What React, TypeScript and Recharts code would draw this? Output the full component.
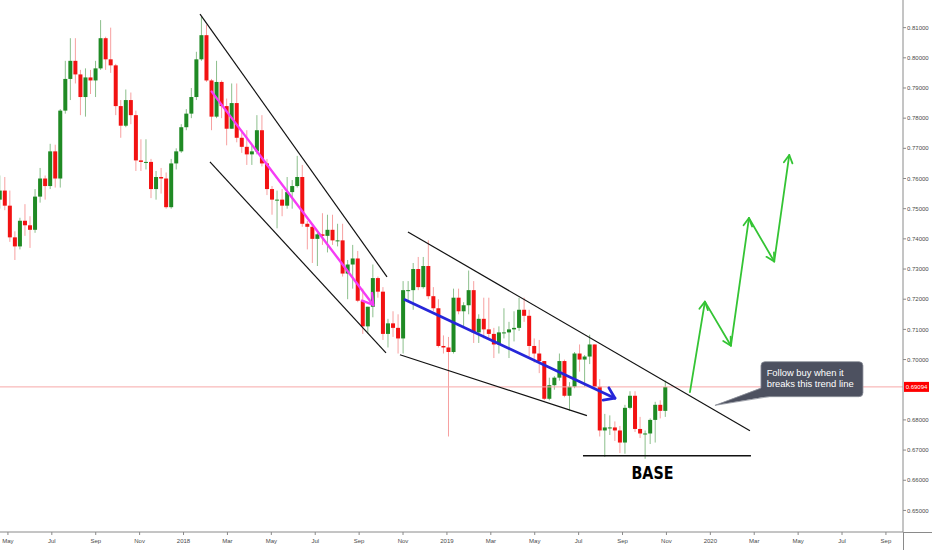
import React from 'react';
import { ComposedChart, Bar, XAxis, YAxis, ReferenceLine, ReferenceDot } from 'recharts';

// AUDUSD, one bar per week, prices in 1/10000
const opens = [
  7530, 7560, 7510, 7405, 7375, 7460, 7445, 7430, 7540, 7600,
  7575, 7690, 7600, 7825, 7930, 7990, 7945, 7870, 7935, 7925,
  7965, 8065, 7995, 7975, 7840, 7775, 7860, 7810, 7660, 7655,
  7655, 7565, 7605, 7600, 7505, 7650, 7690, 7770, 7815, 7870,
  7995, 8075, 7925, 7805, 7920, 7840, 7765, 7850, 7735, 7705,
  7680, 7690, 7760, 7650, 7565, 7530, 7530, 7510, 7555, 7575,
  7605, 7450, 7440, 7400, 7415, 7410, 7430, 7395, 7395, 7285,
  7315, 7335, 7195, 7110, 7175, 7270, 7225, 7085, 7120, 7105,
  7070, 7230, 7230, 7300, 7240, 7310, 7210, 7170, 7045, 7040,
  7025, 7205, 7160, 7180, 7230, 7090, 7135, 7100, 7085, 7050,
  7090, 7090, 7100, 7105, 7165, 7145, 7045, 7020, 6995, 6870,
  6915, 6940, 6995, 6880, 6910, 7020, 7000, 7010, 7050, 6910,
  6765, 6775, 6775, 6765, 6725, 6840, 6880, 6770, 6755, 6755,
  6800, 6850, 6830,
];
const highs = [
  7610, 7605, 7560, 7425, 7470, 7515, 7475, 7565, 7635, 7610,
  7715, 7712, 7830, 7990, 8065, 8065, 7960, 7965, 7960, 7990,
  8125, 8070, 8100, 7980, 7860, 7895, 7885, 7825, 7730, 7730,
  7665, 7625, 7635, 7620, 7665, 7700, 7780, 7830, 7900, 8020,
  8136, 8110, 7930, 7990, 7925, 7865, 7915, 7915, 7760, 7760,
  7715, 7810, 7810, 7665, 7575, 7560, 7565, 7605, 7595, 7675,
  7645, 7460, 7450, 7420, 7485, 7480, 7480, 7450, 7450, 7330,
  7380, 7360, 7235, 7175, 7315, 7275, 7240, 7135, 7160, 7150,
  7260, 7260, 7320, 7340, 7340, 7395, 7240, 7200, 7080, 7075,
  7235, 7235, 7190, 7295, 7260, 7150, 7205, 7205, 7105, 7110,
  7170, 7125, 7160, 7205, 7205, 7165, 7070, 7065, 6995, 6940,
  6945, 7020, 7000, 6925, 7025, 7050, 7015, 7082, 7050, 6935,
  6820, 6815, 6795, 6780, 6850, 6895, 6895, 6810, 6765, 6805,
  6860, 6865, 6930,
];
const lows = [
  7500, 7495, 7390, 7330, 7365, 7410, 7370, 7420, 7520, 7530,
  7565, 7570, 7570, 7815, 7860, 7915, 7810, 7805, 7880, 7870,
  7960, 7960, 7950, 7810, 7735, 7770, 7780, 7625, 7625, 7630,
  7535, 7530, 7550, 7500, 7500, 7630, 7685, 7760, 7800, 7860,
  7990, 7920, 7760, 7800, 7800, 7710, 7765, 7720, 7685, 7645,
  7645, 7680, 7640, 7545, 7480, 7435, 7475, 7500, 7500, 7570,
  7440, 7365, 7320, 7310, 7380, 7355, 7380, 7375, 7275, 7200,
  7235, 7190, 7085, 7085, 7140, 7205, 7065, 7040, 7075, 7020,
  7020, 7195, 7165, 7230, 7235, 7200, 7160, 7040, 7020, 6745,
  7020, 7150, 7110, 7150, 7055, 7055, 7070, 7070, 7005, 7020,
  7070, 7005, 7060, 7095, 7125, 7010, 6990, 6955, 6865, 6865,
  6900, 6930, 6875, 6830, 6905, 6960, 6910, 6985, 6905, 6745,
  6677, 6750, 6730, 6690, 6688, 6835, 6760, 6740, 6671, 6720,
  6725, 6805, 6810,
];
const closes = [
  7560, 7510, 7405, 7375, 7460, 7445, 7430, 7540, 7600, 7575,
  7690, 7600, 7825, 7930, 7990, 7945, 7870, 7935, 7925, 7965,
  8065, 7995, 7975, 7840, 7775, 7860, 7810, 7660, 7655, 7655,
  7565, 7605, 7600, 7505, 7650, 7690, 7770, 7815, 7870, 7995,
  8075, 7925, 7805, 7920, 7840, 7765, 7850, 7735, 7705, 7680,
  7690, 7760, 7650, 7565, 7530, 7530, 7510, 7555, 7575, 7605,
  7450, 7440, 7400, 7415, 7410, 7430, 7395, 7395, 7285, 7315,
  7335, 7195, 7110, 7175, 7270, 7225, 7085, 7120, 7105, 7070,
  7230, 7230, 7300, 7240, 7310, 7210, 7170, 7045, 7040, 7025,
  7205, 7160, 7180, 7230, 7090, 7135, 7100, 7085, 7050, 7090,
  7090, 7100, 7105, 7165, 7145, 7045, 7020, 6995, 6870, 6915,
  6940, 6995, 6880, 6910, 7020, 7000, 7010, 7050, 6910, 6765,
  6775, 6775, 6765, 6725, 6840, 6880, 6770, 6755, 6755, 6800,
  6850, 6830, 6909,
];

const lastPrice = 0.69094;

const monthLabels = [
  'May', 'Jul', 'Sep', 'Nov', '2018', 'Mar', 'May', 'Jul', 'Sep', 'Nov', '2019',
  'Mar', 'May', 'Jul', 'Sep', 'Nov', '2020', 'Mar', 'May', 'Jul', 'Sep',
];
// 0.69 sits under the last-price tag, so it is left out
const priceTicks = [
  0.65, 0.66, 0.67, 0.68, 0.7, 0.71, 0.72, 0.73, 0.74, 0.75, 0.76, 0.77, 0.78, 0.79, 0.8, 0.81,
];

// drawings, as [day since 20 Apr 2017, price]
const channelLines = [
  [[277.7, 0.8145], [537.3, 0.7274]],
  [[291.5, 0.7655], [535.9, 0.7022]],
  [[566.4, 0.7423], [1041.2, 0.6764]],
  [[555.3, 0.7016], [814.9, 0.6814]],
];
const baseLine = [[809.4, 0.6681], [1042.6, 0.6681]];
const pinkArrow = [[293.9, 0.7888], [518.2, 0.7181]];
const blueArrow = [[562.3, 0.7198], [853.8, 0.6872]];
const projection = [
  [957.9, 0.6892], [978.7, 0.7192], [1014.8, 0.7046],
  [1039.8, 0.7469], [1074.9, 0.7325], [1095.8, 0.7678],
];
const calloutAt = [1056.5, 0.6993];
const baseLabelAt = [905.9, 0.6627];

const FIRST_DAY = -1; // mid-week of the first bar
const MONTH_START = 11; // 1 May 2017
const TWO_MONTHS = 60.95;
const X_MAX = 1253.7;

const candles = closes.map((c, i) => ({
  t: FIRST_DAY + 7 * i,
  o: opens[i] / 1e4,
  h: highs[i] / 1e4,
  l: lows[i] / 1e4,
  c: c / 1e4,
  range: [lows[i] / 1e4, highs[i] / 1e4],
}));

const monthTicks = monthLabels.map((_, k) => MONTH_START + TWO_MONTHS * k);

const FONT = "'Liberation Sans', Arial, sans-serif";
const AXIS = '#8a8a8a';

const Candle = (props: any) => {
  const { x, y, width, height, payload } = props;
  if (x == null || y == null || !payload) return null;
  const top = Math.min(y, y + height);
  const span = Math.abs(height);
  const { o, h, l, c } = payload;
  const k = h > l ? span / (h - l) : 0;
  const yo = top + (h - o) * k;
  const yc = top + (h - c) * k;
  const up = c >= o;
  const mid = x + width / 2;
  return (
    <g>
      <line x1={mid} x2={mid} y1={top} y2={top + span} stroke={up ? '#8cbf8c' : '#f7a0a0'} strokeWidth={1} />
      <rect
        x={x}
        y={Math.min(yo, yc)}
        width={width}
        height={Math.max(1, Math.abs(yc - yo))}
        fill={up ? '#1f8a24' : '#f21212'}
      />
    </g>
  );
};

const headPath = (x1: number, y1: number, x2: number, y2: number, len: number, ang: number) => {
  const a = Math.atan2(y2 - y1, x2 - x1);
  const ax = x2 - len * Math.cos(a - ang);
  const ay = y2 - len * Math.sin(a - ang);
  const bx = x2 - len * Math.cos(a + ang);
  const by = y2 - len * Math.sin(a + ang);
  return `M${ax},${ay}L${x2},${y2}L${bx},${by}`;
};

const arrowShape = (color: string, w: number, len: number, ang: number) => (p: any) => (
  <g>
    <line x1={p.x1} y1={p.y1} x2={p.x2} y2={p.y2} stroke={color} strokeWidth={w} strokeLinecap="round" />
    <path
      d={headPath(p.x1, p.y1, p.x2, p.y2, len, ang)}
      fill="none"
      stroke={color}
      strokeWidth={w}
      strokeLinecap="round"
      strokeLinejoin="round"
    />
  </g>
);

const priceLineShape = (p: any) => {
  const right = Math.max(p.x1, p.x2);
  return (
    <g>
      <line x1={p.x1} y1={p.y1} x2={p.x2} y2={p.y2} stroke="#f7a8a8" strokeWidth={1} />
      <rect x={right + 1} y={p.y1 - 5} width={25} height={10} fill="#ff0000" />
      <text x={right + 13.5} y={p.y1 + 2.2} textAnchor="middle" fontSize={6} fill="#ffffff" fontFamily={FONT}>
        {lastPrice.toFixed(5)}
      </text>
    </g>
  );
};

const baseLineShape = (p: any) => (
  <line x1={p.x1} y1={p.y1} x2={p.x2} y2={p.y2} stroke="#111111" strokeWidth={1.5} />
);

const channelShape = (p: any) => (
  <line x1={p.x1} y1={p.y1} x2={p.x2} y2={p.y2} stroke="#111111" strokeWidth={1.2} />
);

const Callout = (p: any) => {
  const x = p.cx;
  const y = p.cy;
  const fill = '#4d5160';
  const edge = '#8d909b';
  return (
    <g>
      <rect x={x} y={y} width={102} height={35} rx={4} ry={4} fill={fill} stroke={edge} strokeWidth={0.8} />
      <path d={`M${x + 0.5},${y + 26} L${x - 46},${y + 43.7} L${x + 8},${y + 34.5} Z`} fill={fill} />
      <path d={`M${x},${y + 26.5} L${x - 46},${y + 43.7} L${x + 8},${y + 35}`} fill="none" stroke={edge} strokeWidth={0.8} />
      <text x={x + 5.7} y={y + 14.6} fontSize={9.5} fill="#ffffff" fontFamily={FONT} textLength={77} lengthAdjust="spacingAndGlyphs">
        Follow buy when it
      </text>
      <text x={x + 5.7} y={y + 25.3} fontSize={9.5} fill="#ffffff" fontFamily={FONT} textLength={87} lengthAdjust="spacingAndGlyphs">
        breaks this trend line
      </text>
    </g>
  );
};

const BaseLabel = (p: any) => (
  <text
    x={p.cx}
    y={p.cy + 6.6}
    textAnchor="middle"
    fontSize={18}
    fontWeight="bold"
    fill="#000000"
    fontFamily="'Liberation Sans Narrow', 'DejaVu Sans Condensed', Arial, sans-serif"
    textLength={42}
    lengthAdjust="spacingAndGlyphs"
  >
    BASE
  </text>
);

const seg = (pts: number[][]) => pts.map(([x, y]) => ({ x, y }));

export default function App() {
  const projectionLegs = projection.slice(1).map((pt, i) => [projection[i], pt]);

  return (
    <div style={{ position: 'relative', width: 932, height: 550, background: '#ffffff' }}>
      <style>{'body{margin:0}'}</style>
      <ComposedChart width={932} height={550} data={candles} margin={{ top: 0, right: 0, bottom: 0, left: 0 }}>
        <XAxis
          dataKey="t"
          type="number"
          domain={[0, X_MAX]}
          allowDataOverflow
          ticks={monthTicks}
          interval={0}
          tickFormatter={(v: number) => monthLabels[Math.round((v - MONTH_START) / TWO_MONTHS)] ?? ''}
          height={18}
          tickSize={3}
          tickMargin={4}
          axisLine={{ stroke: AXIS }}
          tickLine={{ stroke: AXIS }}
          tick={{ fontSize: 6, fill: '#4a4a4a', fontFamily: FONT }}
        />
        <YAxis
          orientation="right"
          type="number"
          domain={[0.64285, 0.81916]}
          allowDataOverflow
          ticks={priceTicks}
          interval={0}
          tickFormatter={(v: number) => v.toFixed(5)}
          width={29}
          tickSize={3}
          tickMargin={1}
          axisLine={{ stroke: AXIS }}
          tickLine={{ stroke: AXIS }}
          tick={{ fontSize: 6, fill: '#4a4a4a', fontFamily: FONT }}
        />
        <ReferenceLine y={lastPrice} ifOverflow="visible" shape={priceLineShape} />
        <Bar dataKey="range" barSize={4} shape={<Candle />} isAnimationActive={false} />
        {channelLines.map((pts, i) => (
          <ReferenceLine key={`ch${i}`} segment={seg(pts)} ifOverflow="visible" shape={channelShape} />
        ))}
        <ReferenceLine segment={seg(baseLine)} ifOverflow="visible" shape={baseLineShape} />
        <ReferenceLine segment={seg(pinkArrow)} ifOverflow="visible" shape={arrowShape('#f53cf5', 2.4, 12, 0.55)} />
        <ReferenceLine segment={seg(blueArrow)} ifOverflow="visible" shape={arrowShape('#2626d9', 2.8, 12, 0.6)} />
        {projectionLegs.map((pts, i) => (
          <ReferenceLine key={`pj${i}`} segment={seg(pts)} ifOverflow="visible" shape={arrowShape('#34c434', 1.8, 9, 0.5)} />
        ))}
        <ReferenceDot x={calloutAt[0]} y={calloutAt[1]} ifOverflow="visible" shape={Callout} />
        <ReferenceDot x={baseLabelAt[0]} y={baseLabelAt[1]} ifOverflow="visible" shape={BaseLabel} />
      </ComposedChart>
      <div style={{ position: 'absolute', left: 903, top: 532, width: 29, height: 1, background: AXIS }} />
      <div style={{ position: 'absolute', left: 903, top: 532, width: 1, height: 18, background: AXIS }} />
    </div>
  );
}
